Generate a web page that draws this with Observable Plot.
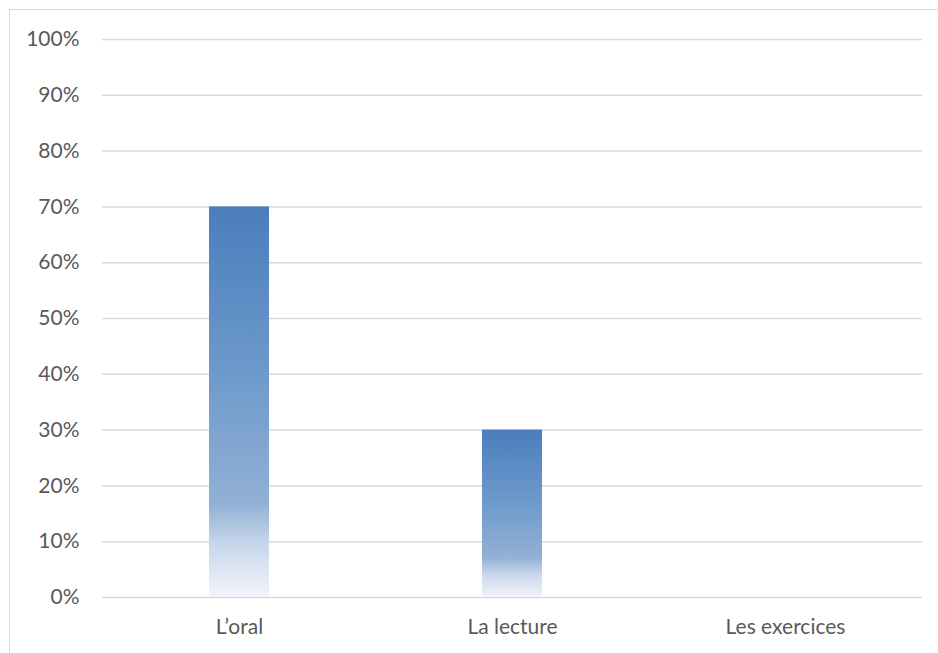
<!DOCTYPE html>
<html>
<head>
<meta charset="utf-8">
<script src="https://cdn.jsdelivr.net/npm/d3@7"></script>
<script src="https://cdn.jsdelivr.net/npm/@observablehq/plot@0.6"></script>
<style>
  html, body { margin: 0; padding: 0; background: #fff; overflow: hidden; }
  #frame { position: absolute; left: 9px; top: 9px; width: 960px; height: 700px; border: 1.5px solid #d9d9d9; box-sizing: border-box; }
  #chart { position: absolute; left: 0; top: 0; }
</style>
</head>
<body>
<div id="frame"></div>
<div id="chart"></div>
<script>
const categories = ["L\u2019oral", "La lecture", "Les exercices"];
const values = [0.70, 0.30, 0.00];
const yTicks = [0, 0.1, 0.2, 0.3, 0.4, 0.5, 0.6, 0.7, 0.8, 0.9, 1.0];

const data = categories.map((c, i) => ({category: c, value: values[i]}));

const plot = Plot.plot({
  width: 938,
  height: 653,
  marginLeft: 102,
  marginRight: 16,
  marginTop: 39,
  marginBottom: 56,
  style: {fontFamily: "Lato, 'Open Sans', sans-serif", fontSize: "21px", color: "#595959", background: "transparent"},
  x: {domain: categories, label: null, paddingInner: 0.78, paddingOuter: 0.39, tickSize: 0, tickPadding: 22},
  y: {domain: [0, 1], label: null, ticks: yTicks, tickFormat: d => Math.round(d * 100) + "%", tickSize: 0, tickPadding: 23},
  marks: [
    Plot.ruleY(yTicks, {stroke: "#d9d9d9", strokeWidth: 1.5, strokeOpacity: 1}),
    Plot.barY(data, {x: "category", y: "value", fill: "url(#barGrad)"})
  ]
});

const svg = d3.select(plot);
const defs = svg.insert("defs", ":first-child");
const g = defs.append("linearGradient").attr("id", "barGrad")
  .attr("x1", 0).attr("y1", 0).attr("x2", 0).attr("y2", 1);
[[0, "#4b7dbc"], [0.4, "#6a98ca"], [0.76, "#91b0d5"], [0.86, "#c6d5ea"], [1, "#f2f5fa"]]
  .forEach(([o, c]) => g.append("stop").attr("offset", o).attr("stop-color", c));
svg.selectAll("text").attr("fill", "#595959");

document.getElementById("chart").appendChild(plot);
</script>
</body>
</html>
